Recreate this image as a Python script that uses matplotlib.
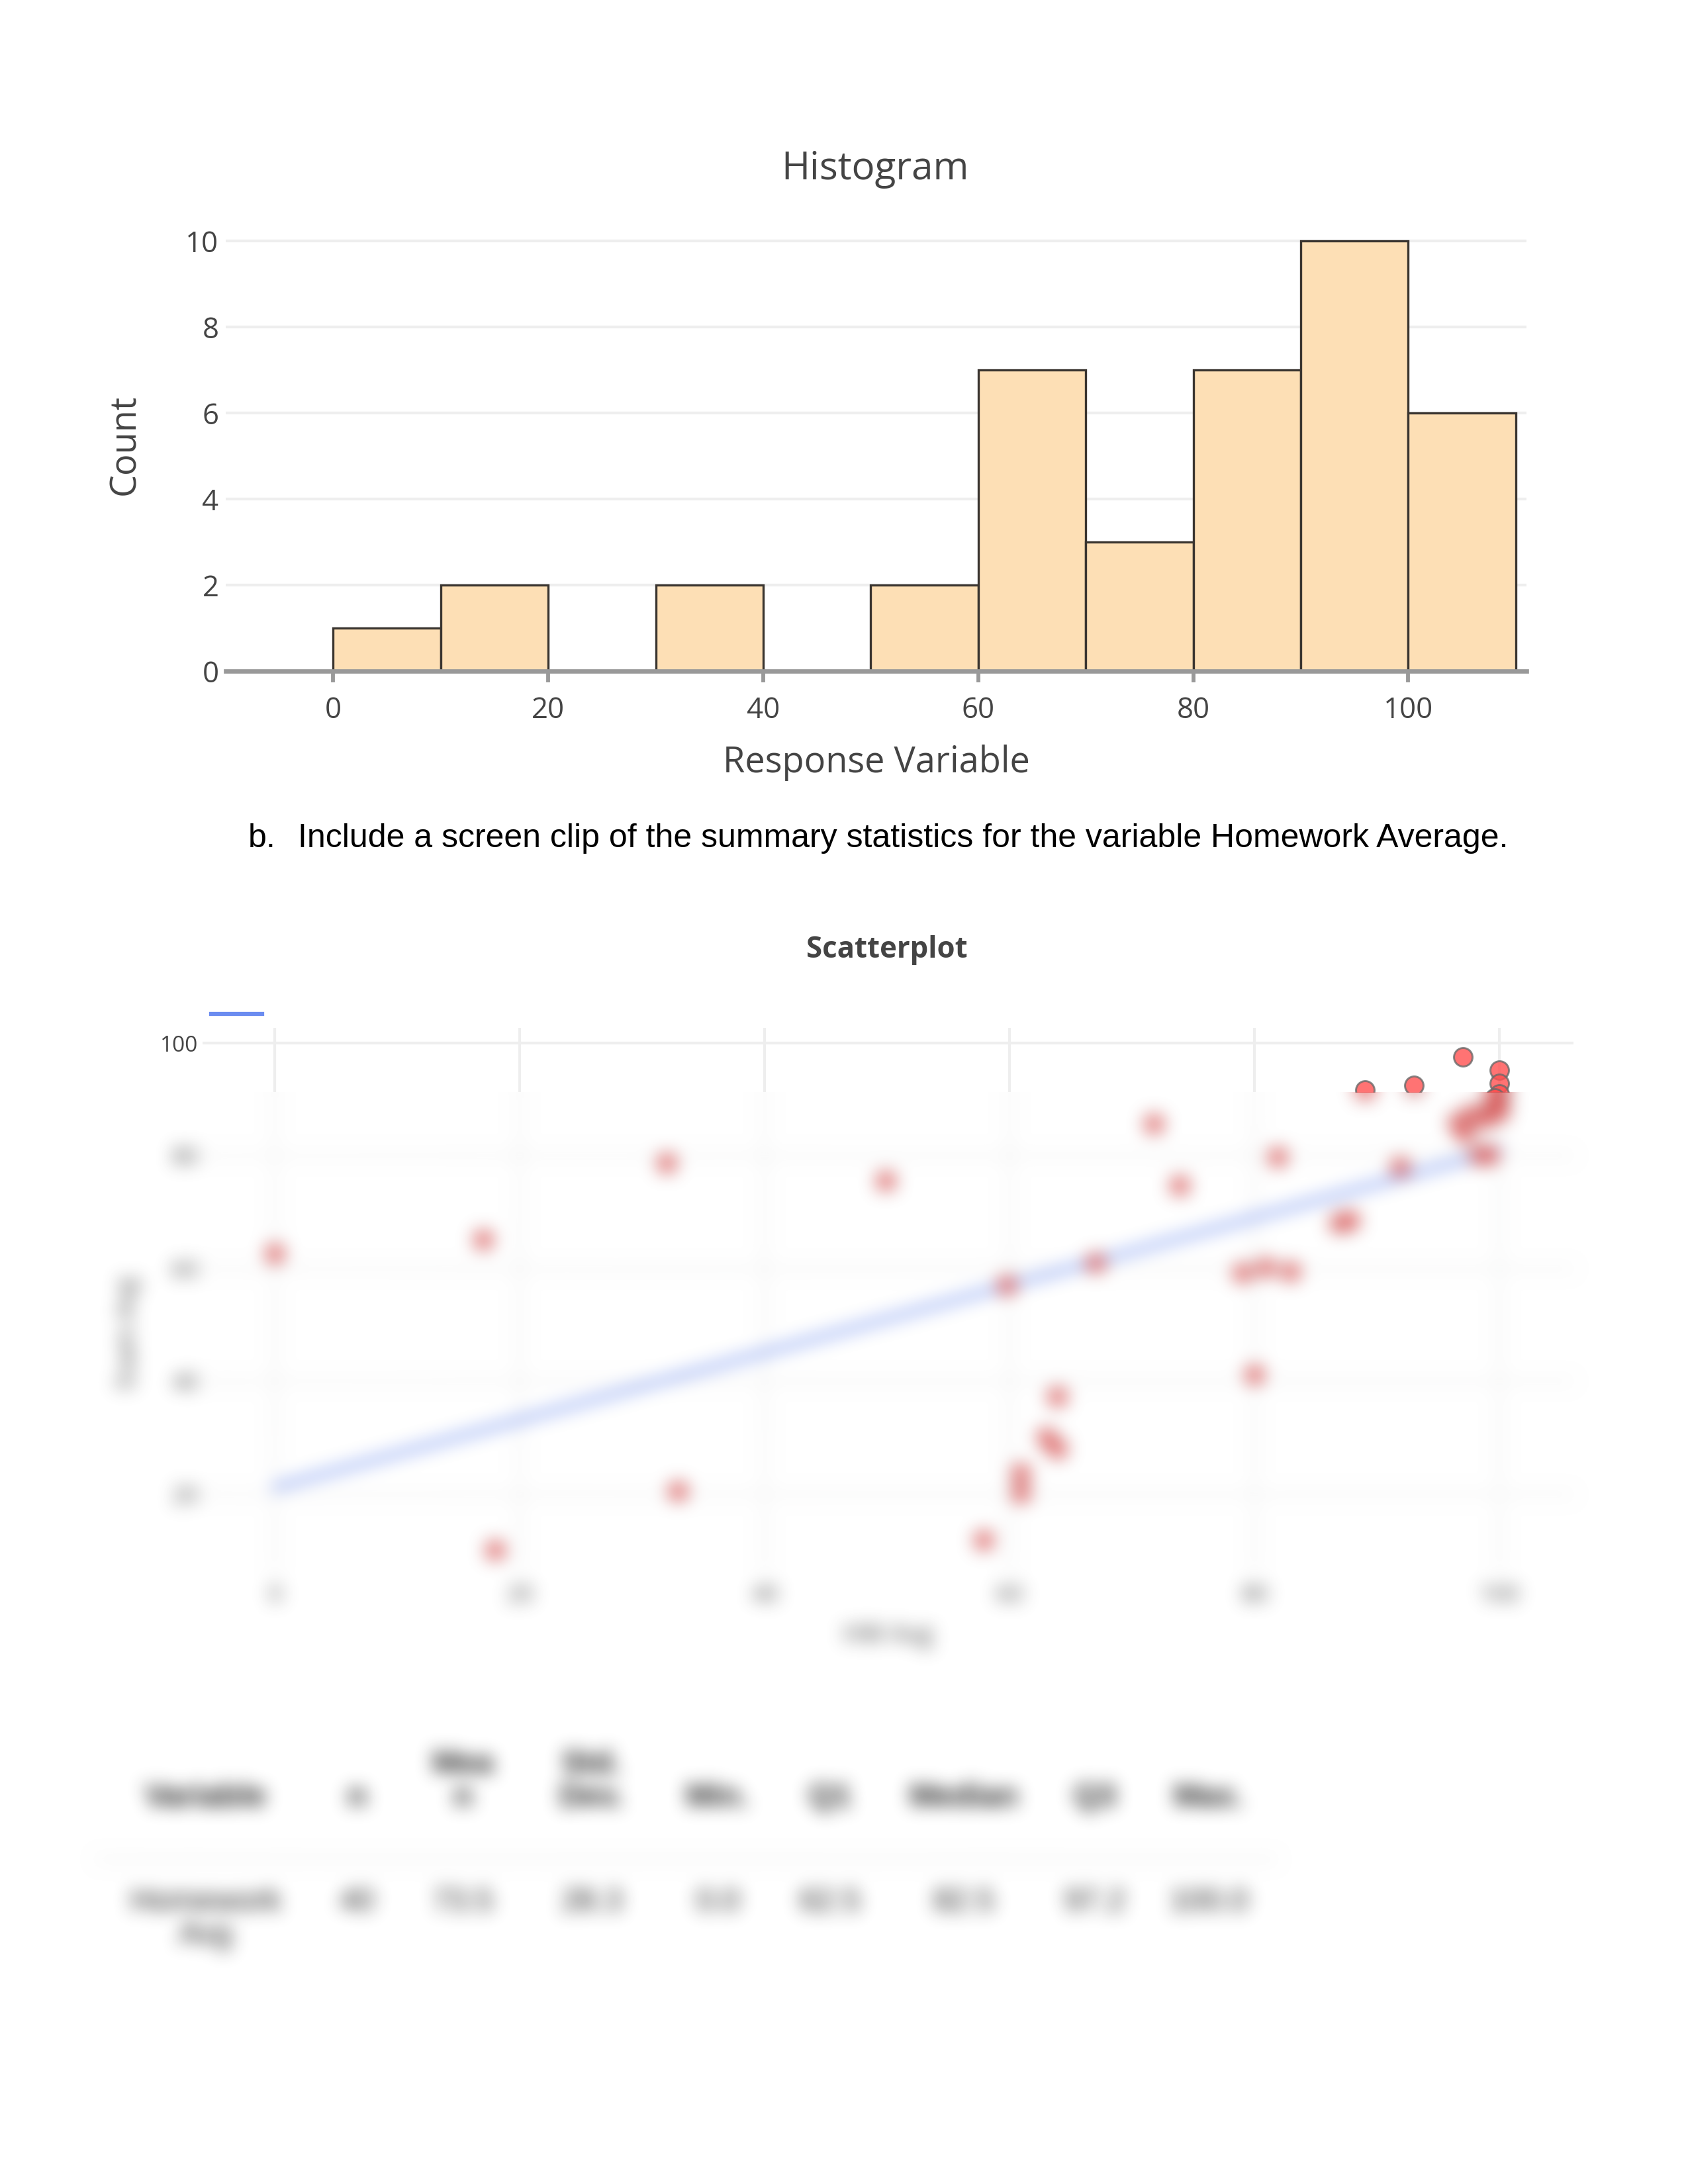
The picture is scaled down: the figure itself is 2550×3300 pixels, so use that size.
import numpy as np
import matplotlib.pyplot as plt
from matplotlib.lines import Line2D

W, H = 2550, 3300

# histogram (10-wide bins)
bin_left = [0, 10, 20, 30, 40, 50, 60, 70, 80, 90, 100]
bin_count = [1, 2, 0, 2, 0, 2, 7, 3, 7, 10, 6]
hist_xticks = [0, 20, 40, 60, 80, 100]
hist_yticks = [0, 2, 4, 6, 8, 10]

# scatterplot
hw_avg = [0, 17, 18, 32, 32.9, 49.9, 57.9, 59.8, 60.9, 60.9,
          63.0, 63.9, 63.9, 67.0, 71.8, 73.9, 79.0, 80.0, 80.9, 81.9,
          82.9, 86.9, 87.8, 89.0, 91.9, 93.0, 97.0, 96.6, 97.8, 98.3,
          99.2, 100, 100, 100, 100, 99.4, 98.8, 100, 97.2, 99.6]
exam_avg = [62.7, 65.2, 10.1, 78.8, 20.5, 75.6, 11.9, 57.0, 23.7, 20.2,
            30.1, 28.1, 37.3, 61.0, 85.7, 74.8, 59.3, 41.2, 60.2, 79.8,
            59.5, 68.1, 68.6, 91.7, 78.0, 92.5, 97.5, 85.9, 87.4, 80.2,
            80.2, 95.2, 92.8, 91.0, 89.5, 88.6, 86.5, 87.8, 84.0, 90.3]
fit_x = [0, 100]
fit_y = [21.2, 81.0]
sc_xticks = [0, 20, 40, 60, 80, 100]
sc_yticks = [20, 40, 60, 80, 100]

# summary table
stat_cols = ["Variable", "n", "Mea\nn", "Std.\nDev.", "Min.", "Q1", "Median", "Q3", "Max."]
stat_vals = ["Homework\nAvg", "40", "73.5", "28.3", "0.0", "62.5", "82.5", "97.2", "100.0"]


def rect(left, top, right, bottom):
    return [left / W, 1 - bottom / H, (right - left) / W, (bottom - top) / H]


def box(a, r, axis):
    n = a.shape[axis]
    c = np.cumsum(a, axis=axis, dtype=np.float32)
    z = np.zeros_like(np.take(c, [0], axis=axis))
    c = np.concatenate([z, c], axis=axis)
    idx = np.arange(n)
    hi = np.minimum(idx + r + 1, n)
    lo = np.maximum(idx - r, 0)
    return (np.take(c, hi, axis=axis) - np.take(c, lo, axis=axis)) / (2 * r + 1)


def make_blur(r=10, hard_top=False):
    def flt(im, dpi):
        pad = 3 * r + 2
        a = np.array(im, dtype=np.float32)
        a[..., :3] *= a[..., 3:4]
        if hard_top:
            a = np.pad(a, ((pad, 0), (0, 0), (0, 0)), mode="edge")
        else:
            a = np.pad(a, ((pad, 0), (0, 0), (0, 0)))
        a = np.pad(a, ((0, pad), (pad, pad), (0, 0)))
        for _ in range(3):
            a = box(a, r, 0)
            a = box(a, r, 1)
        if hard_top:
            a = a[pad:]
        alpha = a[..., 3]
        a[..., :3] /= np.maximum(alpha, 1e-6)[..., None]
        a = np.clip(a, 0, 1)
        return a, -pad, -pad
    return flt


plt.rcParams["font.family"] = ["Open Sans", "DejaVu Sans"]
fig = plt.figure(figsize=(W / 300, H / 300), dpi=300)
fig.patch.set_facecolor("white")

# ---------------- histogram ----------------
ax = fig.add_axes(rect(341, 330, 2306, 1014))
ax.bar(bin_left, bin_count, width=10, align="edge", color="#fddfb5",
       edgecolor="#3a3530", linewidth=0.8, zorder=2)
ax.set_xlim(-10, 111)
ax.set_ylim(0, 10.53)
ax.set_xticks(hist_xticks)
ax.set_yticks(hist_yticks)
ax.grid(axis="y", color="#eeeeee", linewidth=1.0, zorder=0)
for s in ["top", "right", "left"]:
    ax.spines[s].set_visible(False)
ax.spines["bottom"].set_color("#999999")
ax.spines["bottom"].set_linewidth(1.6)
ax.spines["bottom"].set_zorder(3)
ax.tick_params(axis="x", length=4, width=1.4, color="#999999", pad=5,
               labelsize=10.5, labelcolor="#444444")
ax.tick_params(axis="y", length=0, pad=2.5, labelsize=10.5, labelcolor="#444444")
ax.set_xlabel("Response Variable", fontsize=13, color="#444444", va="center")
ax.xaxis.set_label_coords(0.5, -(1153 - 1014) / 684)
ax.set_ylabel("Count", fontsize=13, color="#444444", va="center")
ax.yaxis.set_label_coords((189 - 341) / 1965, 0.5)
fig.text(1322 / W, 1 - 256 / H, "Histogram", fontsize=14, color="#444444",
         ha="center", va="center")

# ---------------- question text ----------------
fig.text(375 / W, 1 - 1280 / H, "b.", fontsize=12, family="Liberation Sans",
         ha="left", va="baseline")
fig.text(450 / W, 1 - 1280 / H,
         "Include a screen clip of the summary statistics for the variable Homework Average.",
         fontsize=12, family="Liberation Sans", ha="left", va="baseline")

# ---------------- scatterplot ----------------
sc_left, sc_right, sc_top, sc_bottom = 306, 2377, 1553, 2377
cut = 1650
ylo, yhi = 5.99, 102.7
ycut = yhi - (cut - sc_top) / (sc_bottom - sc_top) * (yhi - ylo)

fig.text(1340 / W, 1 - 1436 / H, "Scatterplot", fontsize=10.5, fontweight="bold",
         color="#444444", ha="center", va="center")
fig.add_artist(Line2D([319 / W, 396 / W], [1 - 1532 / H, 1 - 1532 / H],
                      color="#6b8cf0", linewidth=1.5))

ax_top = fig.add_axes(rect(sc_left, sc_top, sc_right, cut))
ax_bot = fig.add_axes(rect(sc_left, cut, sc_right, sc_bottom))
for a, lims in [(ax_top, (ycut, yhi)), (ax_bot, (ylo, ycut))]:
    a.set_facecolor("none")
    a.set_xlim(-5.9, 106.05)
    a.set_ylim(*lims)
    a.set_xticks(sc_xticks)
    a.set_yticks([t for t in sc_yticks if lims[0] <= t <= lims[1]])
    a.grid(True, color="#eeeeee", linewidth=1.0, zorder=0)
    for s in a.spines.values():
        s.set_visible(False)
    a.tick_params(length=0, labelsize=8, labelcolor="#444444", pad=1.5)
    a.scatter(hw_avg, exam_avg, s=45, color="#ff5050", alpha=0.8,
              edgecolors="#6a6a6a", linewidths=0.7, zorder=3)
ax_top.tick_params(labelbottom=False)
ax_bot.plot(fit_x, fit_y, color="#6b8cf0", linewidth=1.8, zorder=2)
ax_bot.tick_params(axis="x", pad=4, labelsize=8.5)
ax_bot.tick_params(axis="y", labelsize=8.5)
ax_bot.set_xlabel("HW Avg", fontsize=9, color="#444444", va="center")
ax_bot.xaxis.set_label_coords(0.5, -(2472 - sc_bottom) / (sc_bottom - cut))
ax_bot.set_ylabel("Exam Avg", fontsize=9, color="#444444", va="center")
ax_bot.yaxis.set_label_coords((194 - sc_left) / (sc_right - sc_left), 0.5)
ax_bot.set_agg_filter(make_blur(12, hard_top=True))

# ---------------- summary table (blurred) ----------------
ax_t = fig.add_axes([0, 0, 1, 1])
ax_t.set_xlim(0, W)
ax_t.set_ylim(H, 0)
ax_t.axis("off")
col_x = [311, 539, 699, 894, 1084, 1254, 1456, 1654, 1826]
for x, head, val in zip(col_x, stat_cols, stat_vals):
    ax_t.text(x, 2739, head, fontsize=11.5, fontweight="bold", color="#222222",
              ha="center", va="bottom", family="Liberation Sans", linespacing=1.15)
    ax_t.text(x, 2852, val, fontsize=11.5, color="#222222", ha="center", va="top",
              family="Liberation Sans", linespacing=1.15)
ax_t.plot([147, 1925], [2809, 2809], color="#eeeeee", linewidth=1.2)
ax_t.set_agg_filter(make_blur(12))

fig.savefig("out.png", dpi=300, facecolor="white")
